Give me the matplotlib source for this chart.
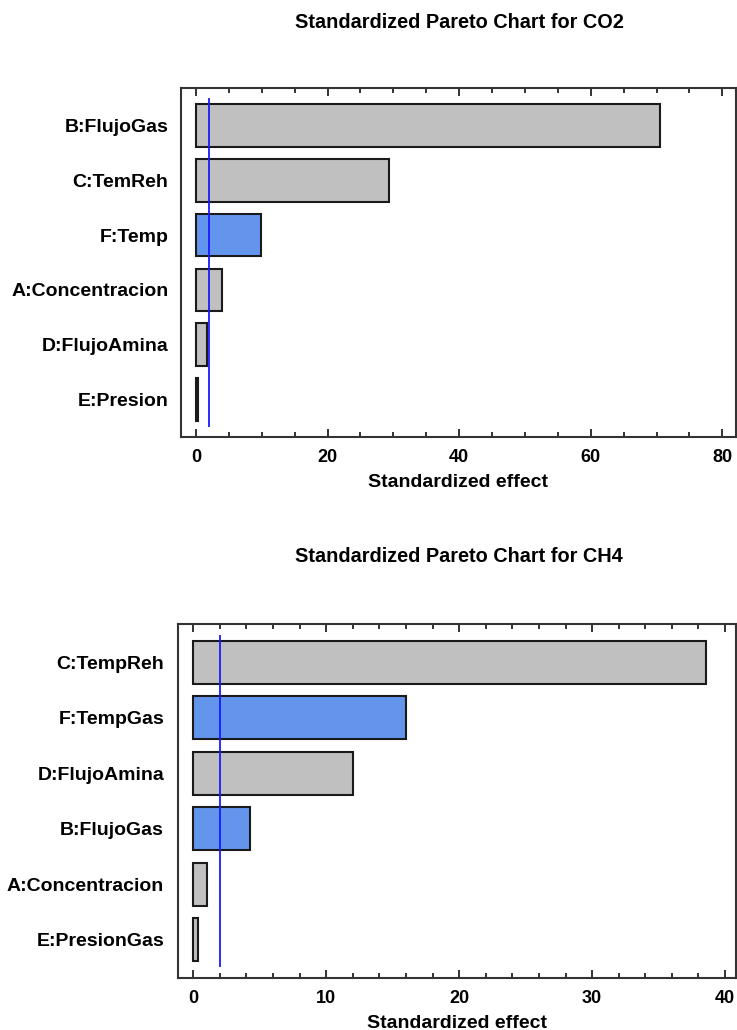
import matplotlib
matplotlib.use("Agg")
import matplotlib.pyplot as plt
from matplotlib.ticker import MultipleLocator

plt.rcParams['font.family'] = ['Liberation Sans', 'DejaVu Sans']
plt.rcParams['font.weight'] = 'bold'

# ---- data ----
co2_labels = ['B:FlujoGas', 'C:TemReh', 'F:Temp', 'A:Concentracion', 'D:FlujoAmina', 'E:Presion']
co2_values = [70.6, 29.3, 9.9, 3.9, 1.6, 0.3]
co2_signs = ['+', '+', '-', '+', '+', '+']
co2_crit = 2.02

ch4_labels = ['C:TempReh', 'F:TempGas', 'D:FlujoAmina', 'B:FlujoGas', 'A:Concentracion', 'E:PresionGas']
ch4_values = [38.6, 16.0, 12.05, 4.3, 1.04, 0.38]
ch4_signs = ['+', '-', '+', '-', '+', '+']
ch4_crit = 2.01

GRAY = '#c0c0c0'
BLUE = '#6495ed'

W, H = 737, 1030
fig = plt.figure(figsize=(W / 100, H / 100), dpi=100)


def px_axes(l, t, r, b):
    return fig.add_axes([l / W, 1 - b / H, (r - l) / W, (b - t) / H])


def draw(ax, labels, values, signs, crit, xlim, major, minor, hpx, ypad):
    n = len(labels)
    pos = list(range(n))
    colors = [BLUE if s == '-' else GRAY for s in signs]
    ax.barh(pos, values, height=0.78, color=colors, edgecolor='#1a1a1a', linewidth=1.5, zorder=2)
    ax.vlines(crit, -0.5, n - 0.5, color='#1a1aff', linewidth=1.3, zorder=3)
    ax.set_ylim(n - 1 + 0.69, -0.69)
    ax.set_xlim(*xlim)
    ax.set_yticks(pos)
    ax.set_yticklabels(labels, fontsize=14, fontweight='bold')
    ax.tick_params(axis='y', length=0, pad=ypad)
    ax.xaxis.set_major_locator(MultipleLocator(major))
    ax.xaxis.set_minor_locator(MultipleLocator(minor))
    ax.tick_params(axis='x', which='both', direction='in', top=True, bottom=True,
                   labelsize=13, pad=8.5, width=1.3, color='#222222')
    ax.tick_params(axis='x', which='major', length=6)
    ax.tick_params(axis='x', which='minor', length=3.5)
    for lab in ax.get_xticklabels():
        lab.set_fontweight('bold')
    ax.set_xlabel('Standardized effect', fontsize=14, fontweight='bold')
    ax.xaxis.set_label_coords(0.5, -37.0 / hpx)
    for sp in ax.spines.values():
        sp.set_linewidth(1.5)
        sp.set_color('#333333')


ax1 = px_axes(181, 88, 736, 437)
draw(ax1, co2_labels, co2_values, co2_signs, co2_crit, (-2.28, 82.08), 20, 5, 349, 9)
ax2 = px_axes(178, 624, 736, 978)
draw(ax2, ch4_labels, ch4_values, ch4_signs, ch4_crit, (-1.14, 40.82), 10, 2, 354, 10)

fig.text(459 / W, 1 - 22 / H, 'Standardized Pareto Chart for CO2', ha='center', va='center',
         fontsize=14.3, fontweight='bold')
fig.text(459 / W, 1 - 557 / H, 'Standardized Pareto Chart for CH4', ha='center', va='center',
         fontsize=14.3, fontweight='bold')

fig.savefig('out.png', dpi=100)
